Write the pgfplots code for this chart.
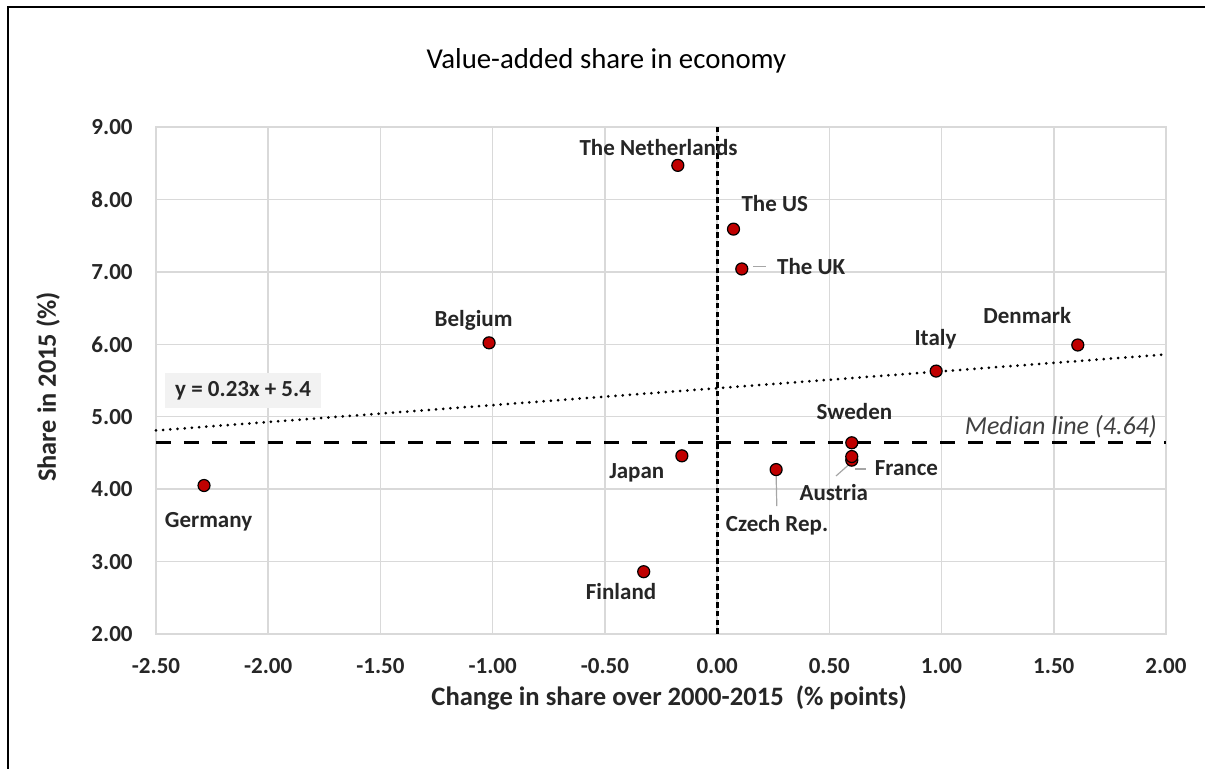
\documentclass[border=0pt]{standalone}
\usepackage{fontspec}
\setmainfont{Carlito}
\usepackage{pgfplots}
\pgfplotsset{compat=1.18}
\definecolor{gridgray}{HTML}{D9D9D9}
\definecolor{txt}{HTML}{262626}
\definecolor{dotred}{HTML}{C00000}
\definecolor{boxgray}{HTML}{F2F2F2}
\definecolor{leader}{HTML}{A6A6A6}
\newcommand\lbl{\fontsize{11.5}{13}\selectfont\bfseries}
\begin{document}
\begin{tikzpicture}
\path[use as bounding box] (-78pt,-67.5pt) rectangle (524.5pt,317pt);
\draw[line width=1pt] (-74pt,-68pt) -- (-74pt,313.5pt) -- (525pt,313.5pt);
\begin{axis}[
 scale only axis, width=505pt, height=253.5pt, at={(0pt,0pt)}, anchor=south west,
 xmin=-2.5, xmax=2, ymin=2, ymax=9,
 xtick={-2.5,-2,-1.5,-1,-0.5,0,0.5,1,1.5,2},
 ytick={2,3,4,5,6,7,8,9},
 grid=major, major grid style={gridgray, line width=0.75pt},
 axis line style={gridgray, line width=0.75pt},
 major tick length=0pt,
 tick label style={font=\lbl, text=txt},
 /pgf/number format/assume math mode=true,
 /pgf/number format/fixed, /pgf/number format/fixed zerofill, /pgf/number format/precision=2,
 xticklabel style={anchor=north, inner sep=0pt, yshift=-12pt},
 yticklabel style={anchor=east, inner sep=0pt, xshift=-11.5pt},
 clip=false,
]
% trend line y = 0.23x + 5.4
\addplot[black, line width=1.5pt, line cap=round, dash pattern=on 0pt off 3.6pt] coordinates {(-2.5,4.81) (2,5.86)};
% median line
\addplot[black, line width=1.5pt, dash pattern=on 7.5pt off 6.5pt] coordinates {(-2.5,4.64) (2,4.64)};
% zero line
\addplot[black, line width=1.5pt, dash pattern=on 2.8pt off 1.6pt] coordinates {(0,2) (0,9)};
% leader lines
\draw[leader, line width=0.6pt] (axis cs:0.162,7.071) -- (axis cs:0.218,7.071);
\draw[leader, line width=0.6pt] (axis cs:0.615,4.278) -- (axis cs:0.664,4.278);
\draw[leader, line width=0.6pt] (axis cs:0.530,4.182) -- (axis cs:0.585,4.333);
\draw[leader, line width=0.6pt] (axis cs:0.263,4.20) -- (axis cs:0.266,3.767);
% data points
\addplot[only marks, mark=*, mark size=3pt, mark options={fill=dotred, draw=black, line width=0.6pt}] coordinates {
 (-0.175,8.47) % The Netherlands
 (0.073,7.59)  % The US
 (0.11,7.04)   % The UK
 (-1.016,6.02) % Belgium
 (0.976,5.63)  % Italy
 (1.607,5.99)  % Denmark
 (0.60,4.40)   % Austria
 (0.60,4.45)   % France
 (0.60,4.64)   % Sweden
 (0.263,4.27)  % Czech Rep.
 (-0.157,4.46) % Japan
 (-2.286,4.05) % Germany
 (-0.327,2.86) % Finland
};
% labels
\node[font=\lbl, text=txt, anchor=base] at (axis cs:-0.261,8.613) {The Netherlands};
\node[font=\lbl, text=txt, anchor=base] at (axis cs:0.257,7.831) {The US};
\node[font=\lbl, text=txt, anchor=base west, inner sep=0pt] at (axis cs:0.266,6.970) {The UK};
\node[font=\lbl, text=txt, anchor=base] at (axis cs:-1.085,6.239) {Belgium};
\node[font=\lbl, text=txt, anchor=base] at (axis cs:0.973,5.990) {Italy};
\node[font=\lbl, text=txt, anchor=base] at (axis cs:1.382,6.290) {Denmark};
\node[font=\lbl, text=txt, anchor=base] at (axis cs:0.612,4.955) {Sweden};
\node[font=\lbl, text=txt, anchor=base west, inner sep=0pt] at (axis cs:0.701,4.195) {France};
\node[font=\lbl, text=txt, anchor=base] at (axis cs:0.52,3.85) {Austria};
\node[font=\lbl, text=txt, anchor=base] at (axis cs:0.267,3.413) {Czech Rep.};
\node[font=\lbl, text=txt, anchor=base] at (axis cs:-0.358,4.150) {Japan};
\node[font=\lbl, text=txt, anchor=base] at (axis cs:-0.428,2.470) {Finland};
\node[font=\lbl, text=txt, anchor=base] at (axis cs:-2.266,3.477) {Germany};
\node[font=\fontsize{13}{15}\selectfont\itshape, text=black!75, anchor=base east, inner sep=0pt] at (axis cs:1.961,4.748) {Median line (4.64)};
\node[font=\lbl, text=txt, fill=boxgray, minimum width=78pt, minimum height=17.5pt, inner sep=0pt] at (axis cs:-2.112,5.362) {y = 0.23x + 5.4};
% titles
\node[font=\fontsize{14.4}{17}\selectfont, text=black, anchor=base] at (rel axis cs:0.446,1) [yshift=29pt] {Value-added share in economy};
\node[font=\fontsize{13.3}{15}\selectfont\bfseries, text=txt, anchor=base] at (rel axis cs:0.508,0) [yshift=-36pt] {Change in share over 2000-2015~ (\% points)};
\node[font=\fontsize{13.2}{15}\selectfont\bfseries, text=txt, rotate=90, anchor=center] at (axis cs:-2.981,5.41) {Share in 2015 (\%)};
\end{axis}
\end{tikzpicture}
\end{document}
